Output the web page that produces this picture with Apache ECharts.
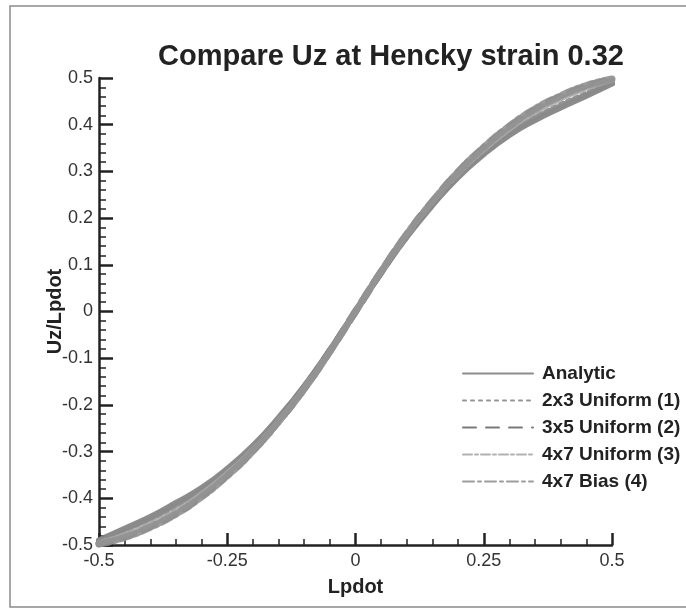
<!DOCTYPE html>
<html><head><meta charset="utf-8">
<script src="https://cdn.jsdelivr.net/npm/echarts@6/dist/echarts.min.js"></script>
<style>html,body{margin:0;padding:0;background:#fff}#c{width:686px;height:612px}</style>
</head><body><div id="c"></div>
<script>
const xVals    = [-0.5,-0.45,-0.4,-0.35,-0.3,-0.25,-0.2,-0.15,-0.1,-0.05,0,0.05,0.1,0.15,0.2,0.25,0.3,0.35,0.4,0.45,0.5];
const analytic = [-0.49,-0.465,-0.44,-0.41,-0.378,-0.337,-0.288,-0.228,-0.16,-0.083,0,0.083,0.16,0.228,0.288,0.337,0.378,0.41,0.437,0.462,0.488];
const uni2x3   = [-0.492,-0.468,-0.444,-0.415,-0.382,-0.341,-0.291,-0.23,-0.161,-0.084,0,0.084,0.161,0.23,0.291,0.341,0.382,0.415,0.442,0.466,0.49];
const uni3x5   = [-0.497,-0.482,-0.46,-0.432,-0.395,-0.35,-0.298,-0.235,-0.165,-0.085,0,0.085,0.165,0.235,0.298,0.35,0.395,0.432,0.46,0.482,0.497];
const uni4x7   = [-0.496,-0.479,-0.456,-0.428,-0.391,-0.347,-0.296,-0.234,-0.164,-0.085,0,0.085,0.164,0.234,0.296,0.347,0.391,0.428,0.456,0.479,0.496];
const bias4x7  = [-0.498,-0.484,-0.462,-0.434,-0.397,-0.352,-0.299,-0.236,-0.166,-0.086,0,0.086,0.166,0.236,0.299,0.352,0.397,0.434,0.462,0.484,0.498];
const seriesNames = ['Analytic','2x3 Uniform (1)','3x5 Uniform (2)','4x7 Uniform (3)','4x7 Bias (4)'];
const yTicks = [-0.5,-0.4,-0.3,-0.2,-0.1,0,0.1,0.2,0.3,0.4,0.5];
const xTicks = [-0.5,-0.25,0,0.25,0.5];

const pairs = arr => xVals.map((x,i)=>[x,arr[i]]);
const styles = [
  {color:'#808080', width:6, type:'solid'},
  {color:'#8a8a8a', width:6, type:[3,5]},
  {color:'#6c6c6c', width:7, type:[13,10]},
  {color:'#a8a8a8', width:6, type:[9,3,3,3]},
  {color:'#919191', width:7, type:[11,4,3,4]}
];
const datasets = [analytic, uni2x3, uni3x5, uni4x7, bias4x7];
const fontF = 'Liberation Sans, Arial, sans-serif';
const chart = echarts.init(document.getElementById('c'), null, {renderer:'canvas'});
chart.setOption({
  backgroundColor:'#fff',
  animation:false,
  title:{text:'Compare Uz at Hencky strain 0.32', left:386, top:37, textAlign:'center',
    textStyle:{fontFamily:fontF, fontWeight:'bold', fontSize:29, color:'#222'}},
  graphic:[{type:'rect', shape:{x:10,y:6,width:700,height:601}, style:{fill:'none', stroke:'#8a8a8a', lineWidth:1.5}, silent:true}],
  grid:{left:99, right:74, top:78, bottom:67},
  legend:{orient:'vertical', left:457, top:359, itemWidth:70, itemHeight:18, itemGap:8,
    data:seriesNames, itemStyle:{opacity:0},
    textStyle:{fontFamily:fontF, fontWeight:'bold', fontSize:19, lineHeight:18, color:'#222', padding:[0,0,0,4]}},
  xAxis:{type:'value', min:-0.5, max:0.5, interval:0.25,
    name:'Lpdot', nameLocation:'middle', nameGap:32, nameMoveOverlap:false,
    nameTextStyle:{fontFamily:fontF, fontWeight:'bold', fontSize:20, color:'#222'},
    axisLine:{onZero:false, lineStyle:{color:'#222', width:2.5}},
    axisTick:{inside:true, length:12, lineStyle:{color:'#222', width:2.5}},
    minorTick:{show:true, splitNumber:5, length:6, lineStyle:{color:'#222', width:1.5}},
    splitLine:{show:false},
    axisLabel:{fontFamily:fontF, fontSize:18, color:'#333', margin:7,
      formatter:v=>xTicks.includes(v)?String(v):''}},
  yAxis:{type:'value', min:-0.5, max:0.5, interval:0.1,
    name:'Uz/Lpdot', nameLocation:'middle', nameGap:34, nameRotate:90, nameMoveOverlap:false,
    nameTextStyle:{fontFamily:fontF, fontWeight:'bold', fontSize:20, color:'#222'},
    axisLine:{onZero:false, lineStyle:{color:'#222', width:2.5}},
    axisTick:{inside:true, length:14, lineStyle:{color:'#222', width:2.5}},
    minorTick:{show:true, splitNumber:5, length:7, lineStyle:{color:'#222', width:1.5}},
    splitLine:{show:false},
    axisLabel:{fontFamily:fontF, fontSize:18, color:'#333', margin:6,
      formatter:v=>{const r=Math.round(v*10)/10; return yTicks.includes(r)?String(r):'';}}},
  series: datasets.map((d,i)=>({
    name:seriesNames[i], type:'line', data:pairs(d), smooth:true, symbol:'none',
    lineStyle:{color:styles[i].color, width:styles[i].width, type:styles[i].type, cap:'round', opacity:0.9},
    itemStyle:{color:styles[i].color}
  }))
});
</script></body></html>
